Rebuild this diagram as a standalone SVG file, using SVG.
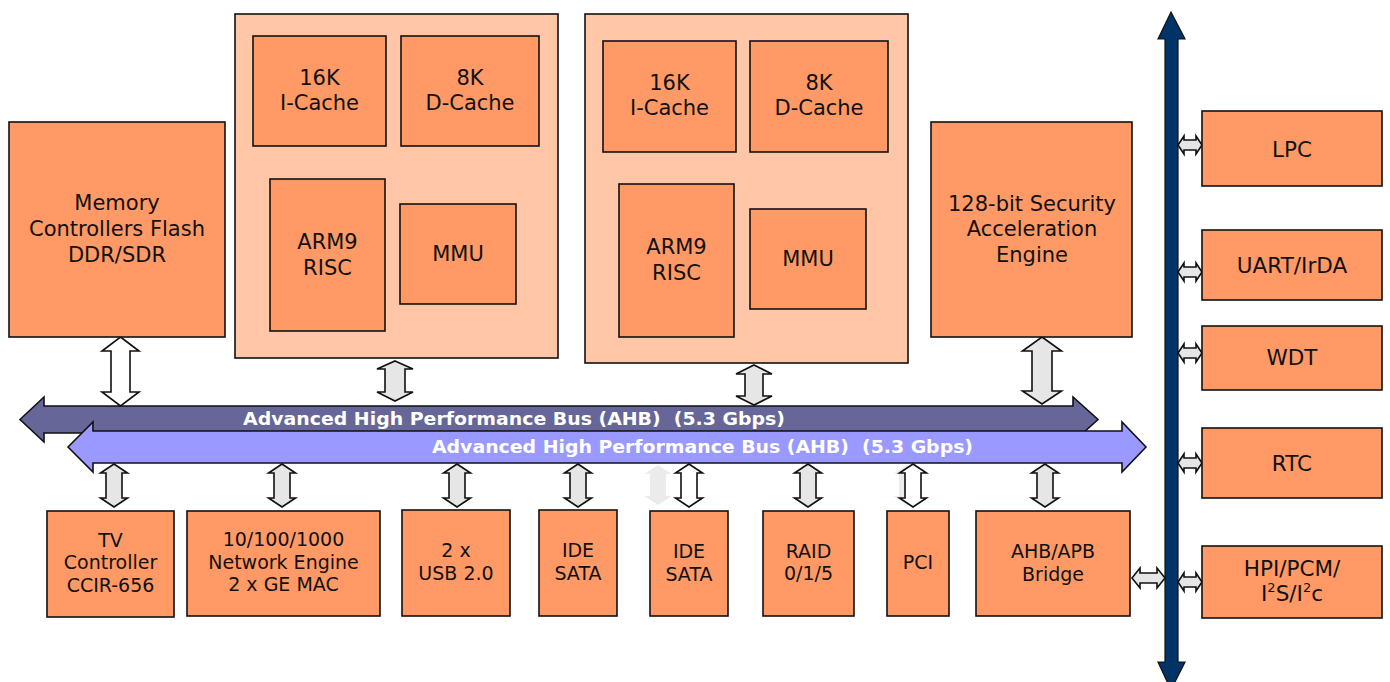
<svg xmlns="http://www.w3.org/2000/svg" width="1390" height="682" viewBox="0 0 1390 682">
<style>
.box{fill:#FF9966;stroke:#111;stroke-width:1.6}
.cpu{fill:#FFC6A8;stroke:#111;stroke-width:1.6}
.t{font-family:"DejaVu Sans",Verdana,sans-serif;font-size:21px;fill:#111;text-anchor:middle}
.s{font-family:"DejaVu Sans",Verdana,sans-serif;font-size:19px;fill:#111;text-anchor:middle}
.r{font-family:"DejaVu Sans",Verdana,sans-serif;font-size:21.5px;fill:#111;text-anchor:middle}
.bus{font-family:"DejaVu Sans",Verdana,sans-serif;font-size:18.5px;font-weight:bold;fill:#fff;text-anchor:middle;white-space:pre}
.ag{fill:#E6E6E6;stroke:#111;stroke-width:1.6;stroke-linejoin:miter}
.aw{fill:#fff;stroke:#111;stroke-width:1.6}
.af{fill:#EBEBEB;stroke:none}
</style>
<rect width="1390" height="682" fill="#fff"/>

<g id="connectors">
<!-- vertical peripheral bus -->
<path d="M1171,12 L1185,39 L1178,39 L1178,662 L1185,662 L1171,690 L1158,662 L1165,662 L1165,39 L1158,39 Z" fill="#003366" stroke="#111" stroke-width="1.2"/>
<!-- dark AHB -->
<path d="M20,419.5 L44,397 L44,406 L1073,406 L1073,397 L1098,419.5 L1073,442 L1073,433 L44,433 L44,442 Z" fill="#666699" stroke="#111" stroke-width="1.6"/>
<text class="bus" x="514" y="425" xml:space="preserve" textLength="542" lengthAdjust="spacingAndGlyphs">Advanced High Performance Bus (AHB)  (5.3 Gbps)</text>
<!-- light AHB -->
<path d="M68,447 L93,422 L93,431 L1122,431 L1122,422 L1146,447 L1122,472 L1122,463 L93,463 L93,472 Z" fill="#9999FF" stroke="#111" stroke-width="1.6"/>
<text class="bus" x="702.5" y="453" xml:space="preserve" textLength="541" lengthAdjust="spacingAndGlyphs">Advanced High Performance Bus (AHB)  (5.3 Gbps)</text>

<!-- top vertical arrows -->
<path class="aw" d="M120.5,337 L139,351 L130,351 L130,392 L139,392 L120.5,406 L102,392 L111,392 L111,351 L102,351 Z"/>
<path class="ag" d="M395,361 L413,369 L405,369 L405,392 L413,392 L395,401 L377,392 L385,392 L385,369 L377,369 Z"/>
<path class="ag" d="M754,365 L772,374 L763,374 L763,396 L772,396 L754,405 L736,396 L745,396 L745,374 L736,374 Z"/>
<path class="ag" d="M1042,337 L1061.5,351 L1052,351 L1052,391 L1061.5,391 L1042,404 L1022.5,391 L1032,391 L1032,351 L1022.5,351 Z"/>

<!-- bottom vertical arrows -->
<path class="ag" d="M114,464 L127.5,473 L122,473 L122,498 L127.5,498 L114,507 L100.5,498 L106,498 L106,473 L100.5,473 Z"/>
<path class="ag" d="M282,464 L295.5,473 L290,473 L290,498 L295.5,498 L282,507 L268.5,498 L274,498 L274,473 L268.5,473 Z"/>
<path class="ag" d="M457,464 L470.5,473 L465,473 L465,498 L470.5,498 L457,507 L443.5,498 L449,498 L449,473 L443.5,473 Z"/>
<path class="ag" d="M578,464 L591.5,473 L586,473 L586,498 L591.5,498 L578,507 L564.5,498 L570,498 L570,473 L564.5,473 Z"/>
<path class="af" d="M658,465 L671.5,474 L666,474 L666,496 L671.5,496 L658,505 L644.5,496 L650,496 L650,474 L644.5,474 Z"/>
<path class="aw" d="M689,464 L702.5,473 L697,473 L697,498 L702.5,498 L689,507 L675.5,498 L681,498 L681,473 L675.5,473 Z"/>
<path class="ag" d="M808,464 L821.5,473 L816,473 L816,498 L821.5,498 L808,507 L794.5,498 L800,498 L800,473 L794.5,473 Z"/>
<path class="af" d="M907,465 L920.5,474 L915,474 L915,496 L920.5,496 L907,505 L893.5,496 L899,496 L899,474 L893.5,474 Z"/>
<path class="aw" d="M913,464 L926.5,473 L921,473 L921,498 L926.5,498 L913,507 L899.5,498 L905,498 L905,473 L899.5,473 Z"/>
<path class="ag" d="M1045,464 L1058.5,473 L1053,473 L1053,498 L1058.5,498 L1045,507 L1031.5,498 L1037,498 L1037,473 L1031.5,473 Z"/>

<!-- horizontal arrows to peripheral bus -->
<path class="ag" d="M1132,578 L1140,568 L1140,573 L1157,573 L1157,568 L1165,578 L1157,588 L1157,583 L1140,583 L1140,588 Z"/>
<path class="ag" d="M1178,145 L1184,136 L1184,140 L1196,140 L1196,136 L1202,145 L1196,154 L1196,150 L1184,150 L1184,154 Z"/>
<path class="ag" d="M1178,272 L1184,263 L1184,267 L1196,267 L1196,263 L1202,272 L1196,281 L1196,277 L1184,277 L1184,281 Z"/>
<path class="ag" d="M1178,353 L1184,344 L1184,348 L1196,348 L1196,344 L1202,353 L1196,362 L1196,358 L1184,358 L1184,362 Z"/>
<path class="ag" d="M1178,463 L1184,454 L1184,458 L1196,458 L1196,454 L1202,463 L1196,472 L1196,468 L1184,468 L1184,472 Z"/>
<path class="ag" d="M1178,582 L1184,573 L1184,577 L1196,577 L1196,573 L1202,582 L1196,591 L1196,587 L1184,587 L1184,591 Z"/>
</g>

<g id="memory">
<rect class="box" x="9" y="122" width="216" height="215"/>
<text class="t" x="117" y="210">Memory</text>
<text class="t" x="117" y="236">Controllers Flash</text>
<text class="t" x="117" y="262">DDR/SDR</text>
</g>

<g id="cpu1">
<rect class="cpu" x="235" y="14" width="323" height="344"/>
<rect class="box" x="253" y="36" width="133" height="110"/>
<text class="t" x="319.5" y="85">16K</text>
<text class="t" x="319.5" y="110">I-Cache</text>
<rect class="box" x="401" y="36" width="138" height="110"/>
<text class="t" x="470" y="85">8K</text>
<text class="t" x="470" y="110">D-Cache</text>
<rect class="box" x="270" y="179" width="115" height="152"/>
<text class="t" x="327.5" y="249">ARM9</text>
<text class="t" x="327.5" y="275">RISC</text>
<rect class="box" x="400" y="204" width="116" height="100"/>
<text class="t" x="458" y="261">MMU</text>
</g>

<g id="cpu2">
<rect class="cpu" x="585" y="14" width="323" height="349"/>
<rect class="box" x="603" y="41" width="133" height="111"/>
<text class="t" x="669.5" y="90">16K</text>
<text class="t" x="669.5" y="115">I-Cache</text>
<rect class="box" x="750" y="41" width="138" height="111"/>
<text class="t" x="819" y="90">8K</text>
<text class="t" x="819" y="115">D-Cache</text>
<rect class="box" x="619" y="184" width="115" height="153"/>
<text class="t" x="676.5" y="254">ARM9</text>
<text class="t" x="676.5" y="280">RISC</text>
<rect class="box" x="750" y="209" width="116" height="100"/>
<text class="t" x="808" y="266">MMU</text>
</g>

<g id="security">
<rect class="box" x="931" y="122" width="201" height="215"/>
<text class="t" x="1032" y="211">128-bit Security</text>
<text class="t" x="1032" y="236">Acceleration</text>
<text class="t" x="1032" y="262">Engine</text>
</g>

<g id="tv">
<rect class="box" x="47" y="511" width="127" height="106"/>
<text class="s" x="110.5" y="547">TV</text>
<text class="s" x="110.5" y="569">Controller</text>
<text class="s" x="110.5" y="592">CCIR-656</text>
</g>
<g id="network">
<rect class="box" x="187" y="511" width="193" height="105"/>
<text class="s" x="283.5" y="546">10/100/1000</text>
<text class="s" x="283.5" y="569">Network Engine</text>
<text class="s" x="283.5" y="591">2 x GE MAC</text>
</g>
<g id="usb">
<rect class="box" x="402" y="510" width="108" height="106"/>
<text class="s" x="456" y="557">2 x</text>
<text class="s" x="456" y="580">USB 2.0</text>
</g>
<g id="ide1">
<rect class="box" x="539" y="510" width="78" height="106"/>
<text class="s" x="578" y="557">IDE</text>
<text class="s" x="578" y="580">SATA</text>
</g>
<g id="ide2">
<rect class="box" x="650" y="511" width="78" height="105"/>
<text class="s" x="689" y="558">IDE</text>
<text class="s" x="689" y="581">SATA</text>
</g>
<g id="raid">
<rect class="box" x="763" y="511" width="91" height="105"/>
<text class="s" x="808.5" y="558">RAID</text>
<text class="s" x="808.5" y="580">0/1/5</text>
</g>
<g id="pci">
<rect class="box" x="887" y="511" width="62" height="105"/>
<text class="s" x="918" y="569">PCI</text>
</g>
<g id="bridge">
<rect class="box" x="976" y="511" width="154" height="105"/>
<text class="s" x="1053" y="558">AHB/APB</text>
<text class="s" x="1053" y="581">Bridge</text>
</g>

<g id="lpc">
<rect class="box" x="1202" y="111" width="180" height="75"/>
<text class="r" x="1292" y="157">LPC</text>
</g>
<g id="uart">
<rect class="box" x="1202" y="230" width="180" height="70"/>
<text class="r" x="1292" y="273">UART/IrDA</text>
</g>
<g id="wdt">
<rect class="box" x="1202" y="326" width="180" height="64"/>
<text class="r" x="1292" y="365">WDT</text>
</g>
<g id="rtc">
<rect class="box" x="1202" y="428" width="180" height="70"/>
<text class="r" x="1292" y="471">RTC</text>
</g>
<g id="hpi">
<rect class="box" x="1202" y="546" width="180" height="72"/>
<text class="r" x="1292" y="576">HPI/PCM/</text>
<text class="r" x="1292" y="601">I<tspan font-size="13" dy="-9">2</tspan><tspan dy="9">S/I</tspan><tspan font-size="13" dy="-9">2</tspan><tspan dy="9">c</tspan></text>
</g>
</svg>
